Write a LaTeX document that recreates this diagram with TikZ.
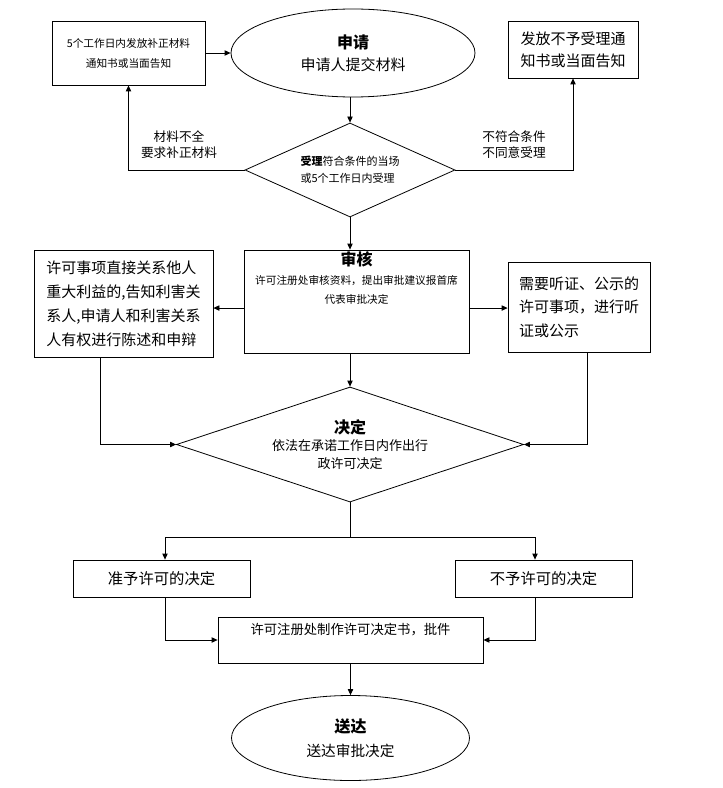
\documentclass[tikz,border=0pt]{standalone}
\usepackage{fontspec}
\setmainfont{Noto Sans CJK SC}
\usepackage{tikz}
\usetikzlibrary{arrows.meta,positioning,calc,shapes.geometric}
\tikzset{
  kuang/.style={draw,line width=0.6pt,inner sep=0pt},
  tuoyuan/.style={ellipse,draw,line width=0.6pt,inner sep=0pt,align=center},
  lingxing/.style={diamond,draw,line width=0.6pt,inner sep=0pt},
  jiantou/.style={line width=0.6pt,-{Triangle[length=4.5pt,width=4pt]}},
  xian/.style={line width=0.6pt},
  xiaozi/.style={font=\fontsize{8}{14.25}\selectfont},
  dazi/.style={font=\fontsize{11.25}{16.5}\selectfont},
}
\newcommand{\biaoti}[1]{{\fontsize{12}{14}\selectfont\bfseries #1}}

\begin{document}
\begin{tikzpicture}[x=0.75pt,y=-0.75pt]
  \useasboundingbox (0,0) rectangle (723,788);
  % top row
  \node[kuang,minimum width=114.75pt,minimum height=48pt,align=center,font=\fontsize{8}{15}\selectfont] (buzheng) at (128.5,53) {5个工作日内发放补正材料\\通知书或当面告知};
  \node[tuoyuan,dazi,minimum width=183pt,minimum height=66pt] (shenqing) at (353,53) {\biaoti{申请}\\申请人提交材料};
  \node[kuang,dazi,minimum width=97.5pt,minimum height=42.75pt,align=center] (buyu) at (573,49.5) {发放不予受理通\\知书或当面告知};
  \node[lingxing,shape aspect=2.23,minimum width=157.5pt,minimum height=70.5pt,align=left,font=\fontsize{8.25}{12.75}\selectfont] (shouli) at (350,170) {{\bfseries 受理}符合条件的当场\\或5个工作日内受理};
  \node[align=center,font=\fontsize{9.5}{12}\selectfont] (cailiao) at (179,145) {材料不全\\要求补正材料};
  \node[align=left,font=\fontsize{9.5}{12}\selectfont] (buhege) at (514,145) {不符合条件\\不同意受理};
  \draw[jiantou] (buzheng.east) -- (shenqing.west);
  \draw[jiantou] (shouli.north |- shenqing.south) -- (shouli.north);
  \draw[jiantou] (shouli.west) -| (buzheng.south);
  \draw[jiantou] (shouli.east) -| (buyu.south);
  % review
  \node[kuang,minimum width=168.75pt,minimum height=77.25pt] (shenhe) at (356.5,301.5) {};
  \node[anchor=north,inner sep=1.5pt,align=center,xiaozi] (shenhewen) at (shenhe.north) {\biaoti{审核}\\许可注册处审核资料，提出审批建议报首席\\代表审批决定};
  \node[kuang,minimum width=134.25pt,minimum height=80.25pt,align=left,font=\fontsize{11.25}{18}\selectfont] (gaozhi) at (123.5,303.5) {许可事项直接关系他人\\重大利益的,告知利害关\\系人,申请人和利害关系\\人有权进行陈述和申辩};
  \node[kuang,minimum width=106.5pt,minimum height=67.5pt,align=left,font=\fontsize{11.25}{17.6}\selectfont] (tingzheng) at (579,307) {需要听证、公示的\\许可事项，进行听\\证或公示};
  \draw[jiantou] (shouli.south) -- (shouli.south |- shenhe.north);
  \draw[jiantou] ([yshift=-4.9pt]shenhe.west) -- ([yshift=-4.9pt]shenhe.west -| gaozhi.east);
  \draw[jiantou] ([yshift=-4.9pt]shenhe.east) -- ([yshift=-4.9pt]shenhe.east -| tingzheng.west);
  % decision
  \node[lingxing,shape aspect=3,minimum width=260.25pt,minimum height=86.25pt,align=center,font=\fontsize{9.75}{13}\selectfont] (jueding) at (350,444.5) {\biaoti{决定}\\依法在承诺工作日内作出行\\政许可决定};
  \draw[jiantou] (jueding.north |- shenhe.south) -- (jueding.north);
  \draw[jiantou] ([xshift=-17.6pt]gaozhi.south) |- (jueding.west);
  \draw[jiantou] ([xshift=6pt]tingzheng.south) |- (jueding.east);
  \node[kuang,minimum width=132.75pt,minimum height=27.75pt,font=\fontsize{11.5}{14}\selectfont] (zhunyu) at (161.5,578.5) {准予许可的决定};
  \node[kuang,minimum width=132.75pt,minimum height=27.75pt,font=\fontsize{11.5}{14}\selectfont] (buyujd) at (543.5,578.5) {不予许可的决定};
  \coordinate (fenzuo) at (165,537);
  \coordinate (fenyou) at (535,537);
  \draw[xian] (jueding.south) -- (jueding.south |- fenzuo);
  \draw[xian] (fenzuo) -- (fenyou);
  \draw[jiantou] (fenzuo) -- (fenzuo |- zhunyu.north);
  \draw[jiantou] (fenyou) -- (fenyou |- buyujd.north);
  % certificate and delivery
  \node[kuang,minimum width=198.75pt,minimum height=34.5pt] (zhizuo) at (350.5,640) {};
  \node[font=\fontsize{10}{12}\selectfont] (zhizuowen) at ([yshift=-9.75pt]zhizuo.north) {许可注册处制作许可决定书，批件};
  \draw[jiantou] ([xshift=2.6pt]zhunyu.south) |- (zhizuo.west);
  \draw[jiantou] ([xshift=-6.4pt]buyujd.south) |- (zhizuo.east);
  \node[tuoyuan,minimum width=178.5pt,minimum height=63.75pt,font=\fontsize{11}{18}\selectfont] (songda) at (350.5,738) {\biaoti{送达}\\送达审批决定};
  \draw[jiantou] (zhizuo.south) -- (songda.north);
\end{tikzpicture}
\end{document}
